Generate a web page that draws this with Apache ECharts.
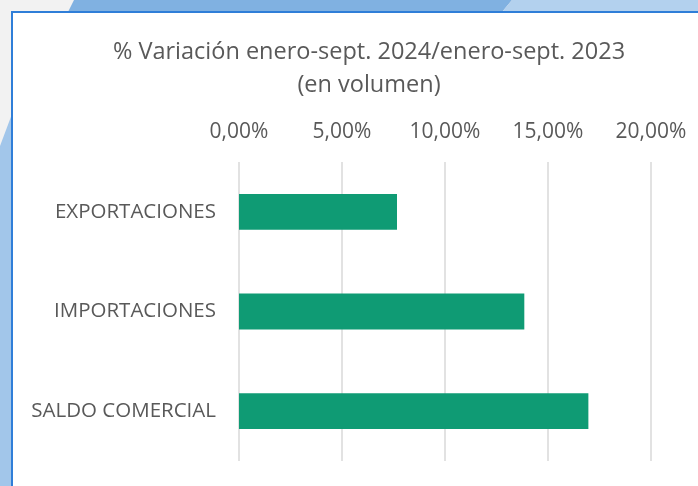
<!DOCTYPE html>
<html lang="es">
<head>
    <meta charset="UTF-8">
    <title>Variación</title>
    <style>
        html, body { margin: 0; padding: 0; background: #f2f2f2; }
        .dis { width: 698px; height: 486px; }
    </style>
    <script src="https://cdn.jsdelivr.net/npm/echarts@6/dist/echarts.min.js"></script>
</head>
<body>
<div class="dis"></div>
<script>
    // datos
    var categorias = ["EXPORTACIONES", "IMPORTACIONES", "SALDO COMERCIAL"];
    var variacion = [7.67, 13.85, 16.96];
    var ticks = [0, 5, 10, 15, 20];

    var txt = "#595959";
    var dis = document.getElementsByClassName("dis")[0];
    var my_dis = echarts.init(dis);

    var option = {
        backgroundColor: "#f2f2f2",
        animation: false,
        graphic: [
            // franja superior
            { type: "polygon", z: -10, shape: { points: [[68, 12], [74, 0], [512, 0], [502, 12]] },
              style: { fill: "#80b1e1" } },
            { type: "polygon", z: -10, shape: { points: [[502, 12], [512, 0], [698, 0], [698, 12]] },
              style: { fill: "#b3d1ee" } },
            // franja izquierda
            { type: "polygon", z: -10, shape: { points: [[0, 146], [12, 114], [12, 486], [0, 486]] },
              style: { fill: "#a2c6ea" } },
            // panel
            { type: "rect", z: -5, shape: { x: 12, y: 12, width: 700, height: 490 },
              style: { fill: "#ffffff", stroke: "#2f7ed8", lineWidth: 2 } }
        ],
        title: {
            text: "% Variación enero-sept. 2024/enero-sept. 2023\n(en volumen)",
            left: 364,
            top: 31,
            textAlign: "center",
            textStyle: {
                fontFamily: "Open Sans",
                fontSize: 23.5,
                fontWeight: "normal",
                lineHeight: 33,
                color: txt
            }
        },
        grid: { left: 239, right: 47, top: 162, bottom: 25, containLabel: false },
        xAxis: {
            type: "value",
            position: "top",
            min: ticks[0],
            max: ticks[ticks.length - 1],
            interval: 5,
            axisLine: { show: false },
            axisTick: { show: false },
            splitLine: { lineStyle: { color: "#d9d9d9", width: 1.5 } },
            axisLabel: {
                margin: 19,
                color: txt,
                fontFamily: "Open Sans",
                fontSize: 21,
                formatter: function (v) { return v.toFixed(2).replace(".", ",") + "%"; }
            }
        },
        yAxis: {
            type: "category",
            inverse: true,
            data: categorias,
            axisLine: { show: false },
            axisTick: { show: false },
            axisLabel: {
                margin: 23,
                color: txt,
                fontFamily: "Open Sans",
                fontSize: 20.5
            }
        },
        series: [
            {
                name: "% Variación",
                type: "bar",
                data: variacion,
                barWidth: "36%",
                itemStyle: { color: "#0f9b74" }
            }
        ]
    };
    my_dis.setOption(option);
</script>
</body>
</html>
